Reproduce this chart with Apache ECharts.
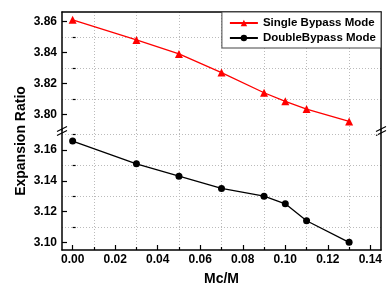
<!DOCTYPE html>
<html>
<head>
<meta charset="utf-8">
<script src="https://cdn.jsdelivr.net/npm/echarts@6/dist/echarts.min.js"></script>
<style>
  html, body { margin: 0; padding: 0; background: #fff; }
  #main { width: 392px; height: 291px; }
</style>
</head>
<body>
<div id="main"></div>
<script>
// data
const mcRatio = [0, 0.03, 0.05, 0.07, 0.09, 0.10, 0.11, 0.13];
const singleBypass = [3.861, 3.848, 3.839, 3.827, 3.814, 3.8085, 3.8035, 3.7955];
const doubleBypass = [3.1658, 3.151, 3.143, 3.135, 3.130, 3.125, 3.114, 3.100];

const xMajor = [0, 0.02, 0.04, 0.06, 0.08, 0.10, 0.12, 0.14];
const xMinor = [0.01, 0.03, 0.05, 0.07, 0.09, 0.11, 0.13];
const yTopMajor = [3.80, 3.82, 3.84, 3.86];
const yTopMinor = [3.81, 3.83, 3.85];
const yLowMajor = [3.10, 3.12, 3.14, 3.16];
const yLowMinor = [3.11, 3.13, 3.15, 3.17];

const chart = echarts.init(document.getElementById("main"));

const FONT = "Liberation Sans";
const frame = { show: true, onZero: false, lineStyle: { color: "#000", width: 1.5 } };
const dotted = { show: true, lineStyle: { color: "#bbb", type: [1, 2], width: 1 } };

// the "//" marks where the y axis is broken
function breakMark(x, y) {
  return {
    type: "group",
    x: x,
    y: y,
    children: [
      { type: "polygon", shape: { points: [[-6, 1], [6, -5], [6, -1], [-6, 5]] }, style: { fill: "#fff" } },
      { type: "line", shape: { x1: -5, y1: 0.5, x2: 5, y2: -4.5 }, style: { stroke: "#000", lineWidth: 1.2 } },
      { type: "line", shape: { x1: -5, y1: 4.5, x2: 5, y2: -0.5 }, style: { stroke: "#000", lineWidth: 1.2 } }
    ]
  };
}

function fmt(v) { return v.toFixed(2); }

const option = {
  animation: false,
  textStyle: { fontFamily: FONT },
  grid: [
    { left: 62, right: 11, top: 12, height: 118 },
    { left: 62, right: 11, top: 130, height: 120 }
  ],
  legend: {
    orient: "vertical",
    right: 11,
    top: 12,
    itemWidth: 28,
    itemHeight: 8,
    itemGap: 3,
    padding: [5, 5, 4, 7],
    borderColor: "#444",
    borderWidth: 1,
    backgroundColor: "#fff",
    textStyle: { fontFamily: FONT, fontWeight: "bold", fontSize: 11.5, color: "#000" },
    data: ["Single Bypass Mode", "DoubleBypass Mode"]
  },
  xAxis: [
    {
      gridIndex: 0, type: "value", position: "top", min: -0.005, max: 0.145,
      axisLine: frame, axisLabel: { show: false },
      axisTick: { show: false, customValues: xMinor },
      splitLine: dotted
    },
    {
      gridIndex: 1, type: "value", position: "bottom", min: -0.005, max: 0.145,
      name: "Mc/M", nameLocation: "middle", nameGap: 22,
      nameTextStyle: { fontFamily: FONT, fontWeight: "bold", fontSize: 14, color: "#000" },
      axisLine: frame,
      axisTick: { show: true, inside: true, length: 5, customValues: xMajor, lineStyle: { color: "#000", width: 1.2 } },
      axisLabel: { customValues: xMajor, margin: 4, color: "#000", fontWeight: "bold", fontSize: 12, fontFamily: FONT, formatter: fmt },
      splitLine: { show: false }
    },
    {
      gridIndex: 1, type: "value", position: "bottom", min: -0.005, max: 0.145,
      axisLine: { show: false }, axisLabel: { show: false },
      axisTick: { show: true, inside: true, length: 3, customValues: xMinor, lineStyle: { color: "#000", width: 1.2 } },
      splitLine: dotted
    }
  ],
  yAxis: [
    {
      gridIndex: 0, type: "value", position: "left", min: 3.79, max: 3.866,
      axisLine: frame,
      axisTick: { show: true, inside: true, length: 5, customValues: yTopMajor, lineStyle: { color: "#000", width: 1.2 } },
      axisLabel: { customValues: yTopMajor, margin: 5, color: "#000", fontWeight: "bold", fontSize: 12, fontFamily: FONT, formatter: fmt },
      splitLine: { show: false }
    },
    {
      gridIndex: 0, type: "value", position: "left", min: 3.79, max: 3.866,
      axisLine: { show: false }, axisLabel: { show: false },
      axisTick: { show: true, inside: true, length: 3, customValues: yTopMinor, lineStyle: { color: "#000", width: 1.2 } },
      splitLine: dotted
    },
    {
      gridIndex: 0, type: "value", position: "right", min: 3.79, max: 3.866,
      axisLine: frame, axisTick: { show: false }, axisLabel: { show: false }, splitLine: { show: false }
    },
    {
      gridIndex: 1, type: "value", position: "left", min: 3.095, max: 3.173,
      axisLine: frame,
      axisTick: { show: true, inside: true, length: 5, customValues: yLowMajor, lineStyle: { color: "#000", width: 1.2 } },
      axisLabel: { customValues: yLowMajor, margin: 5, color: "#000", fontWeight: "bold", fontSize: 12, fontFamily: FONT, formatter: fmt },
      splitLine: { show: false }
    },
    {
      gridIndex: 1, type: "value", position: "left", min: 3.095, max: 3.173,
      axisLine: { show: false }, axisLabel: { show: false },
      axisTick: { show: true, inside: true, length: 3, customValues: yLowMinor, lineStyle: { color: "#000", width: 1.2 } },
      splitLine: dotted
    },
    {
      gridIndex: 1, type: "value", position: "right", min: 3.095, max: 3.173,
      axisLine: frame, axisTick: { show: false }, axisLabel: { show: false }, splitLine: { show: false }
    }
  ],
  graphic: [
    {
      type: "text", x: 21, y: 141, rotation: Math.PI / 2,
      style: { text: "Expansion Ratio", fill: "#000", font: "bold 14px " + FONT, align: "center", verticalAlign: "middle" }
    },
    breakMark(62, 131),
    breakMark(381, 131)
  ],
  series: [
    {
      name: "Single Bypass Mode", type: "line", xAxisIndex: 0, yAxisIndex: 0,
      data: mcRatio.map(function (x, i) { return [x, singleBypass[i]]; }),
      symbol: "triangle", symbolSize: 8,
      itemStyle: { color: "#ff0000" },
      lineStyle: { color: "#ff0000", width: 1.3 }
    },
    {
      name: "DoubleBypass Mode", type: "line", xAxisIndex: 1, yAxisIndex: 3,
      data: mcRatio.map(function (x, i) { return [x, doubleBypass[i]]; }),
      symbol: "circle", symbolSize: 7,
      itemStyle: { color: "#000" },
      lineStyle: { color: "#000", width: 1.3 }
    }
  ]
};

chart.setOption(option);
</script>
</body>
</html>
